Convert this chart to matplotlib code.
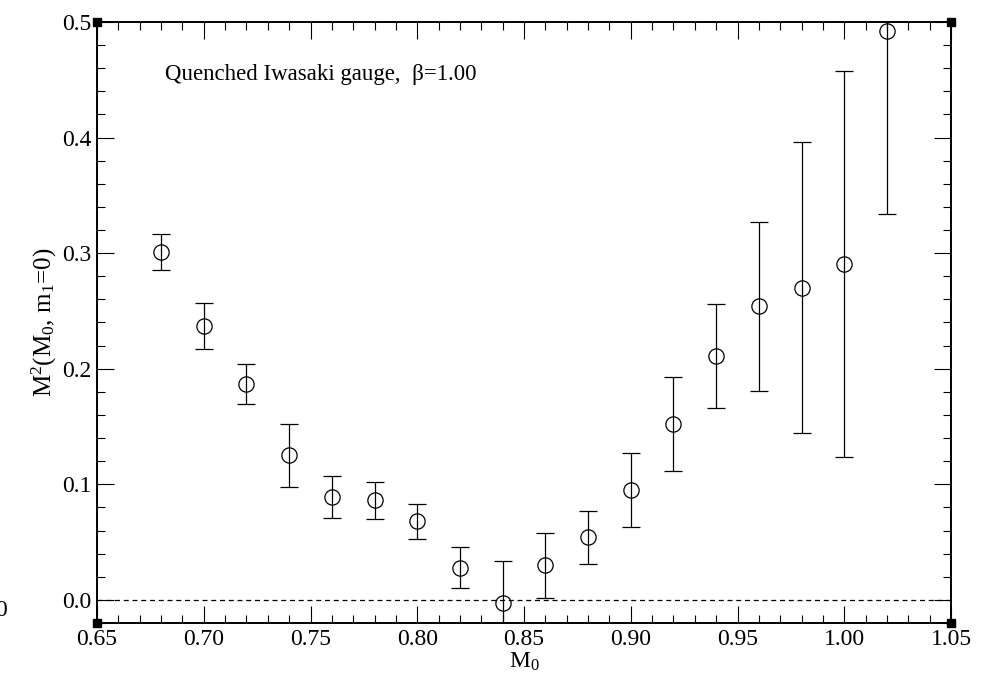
import matplotlib
matplotlib.use("Agg")
import matplotlib.pyplot as plt
from matplotlib.ticker import MultipleLocator
import numpy as np

# M0 values and fitted M^2 with errors
m0 = [0.68, 0.70, 0.72, 0.74, 0.76, 0.78, 0.80, 0.82, 0.84,
      0.86, 0.88, 0.90, 0.92, 0.94, 0.96, 0.98, 1.00, 1.02]
msq = [0.301, 0.237, 0.187, 0.125, 0.089, 0.086, 0.068, 0.028, -0.003,
       0.030, 0.054, 0.095, 0.152, 0.211, 0.254, 0.270, 0.291, 0.492]
msq_err = [0.0155, 0.020, 0.0175, 0.027, 0.0185, 0.016, 0.015, 0.0175, 0.037,
           0.028, 0.023, 0.032, 0.0405, 0.045, 0.073, 0.126, 0.167, 0.158]

x_range = (0.65, 1.05)
y_range = (-0.02, 0.5)

plt.rcParams["font.family"] = ["Liberation Serif", "DejaVu Serif"]
plt.rcParams["mathtext.fontset"] = "custom"
plt.rcParams["mathtext.rm"] = "Liberation Serif"
plt.rcParams["mathtext.it"] = "Liberation Serif"

fig = plt.figure(figsize=(9.89, 6.82), dpi=100)
ax = fig.add_axes([97 / 989, 1 - 623 / 682, (951 - 97) / 989, (623 - 22) / 682])

ax.axhline(0.0, color="black", lw=0.9, ls=(0, (4, 3)), zorder=1)
ax.errorbar(m0, msq, yerr=msq_err, fmt="o", mfc="none", mec="black", mew=0.9,
            ms=11, ecolor="black", elinewidth=0.9, capsize=6.5, capthick=0.9,
            zorder=3)

ax.set_xlim(*x_range)
ax.set_ylim(*y_range)
ax.xaxis.set_major_locator(MultipleLocator(0.05))
ax.xaxis.set_minor_locator(MultipleLocator(0.01))
ax.yaxis.set_major_locator(MultipleLocator(0.1))
ax.yaxis.set_minor_locator(MultipleLocator(0.02))
ax.xaxis.set_major_formatter(plt.FuncFormatter(lambda v, p: f"{v:.2f}"))
ax.yaxis.set_major_formatter(plt.FuncFormatter(lambda v, p: f"{v:.1f}"))
ax.tick_params(which="both", direction="in", top=True, right=True,
               labelsize=17, width=0.8)
ax.tick_params(which="major", length=12, pad=4)
ax.tick_params(which="minor", length=6)
for sp in ax.spines.values():
    sp.set_linewidth(1.4)

# black squares at the corners
for cx in x_range:
    for cy in y_range:
        ax.plot(cx, cy, marker="s", color="black", ms=6, clip_on=False, zorder=5)

ax.set_xlabel(r"M$_0$", fontsize=17, labelpad=1)
ax.set_ylabel(r"M$^2$(M$_0$, m$_1$=0)", fontsize=18, labelpad=2)
ax.text(0.08, 0.912, "Quenched Iwasaki gauge,  \u03b2=1.00", transform=ax.transAxes,
        fontsize=16.5, ha="left", va="center")

fig.text(7 / 989, 1 - 610 / 682, "0", fontsize=17, ha="right", va="center")

fig.savefig("out.png", dpi=100)
